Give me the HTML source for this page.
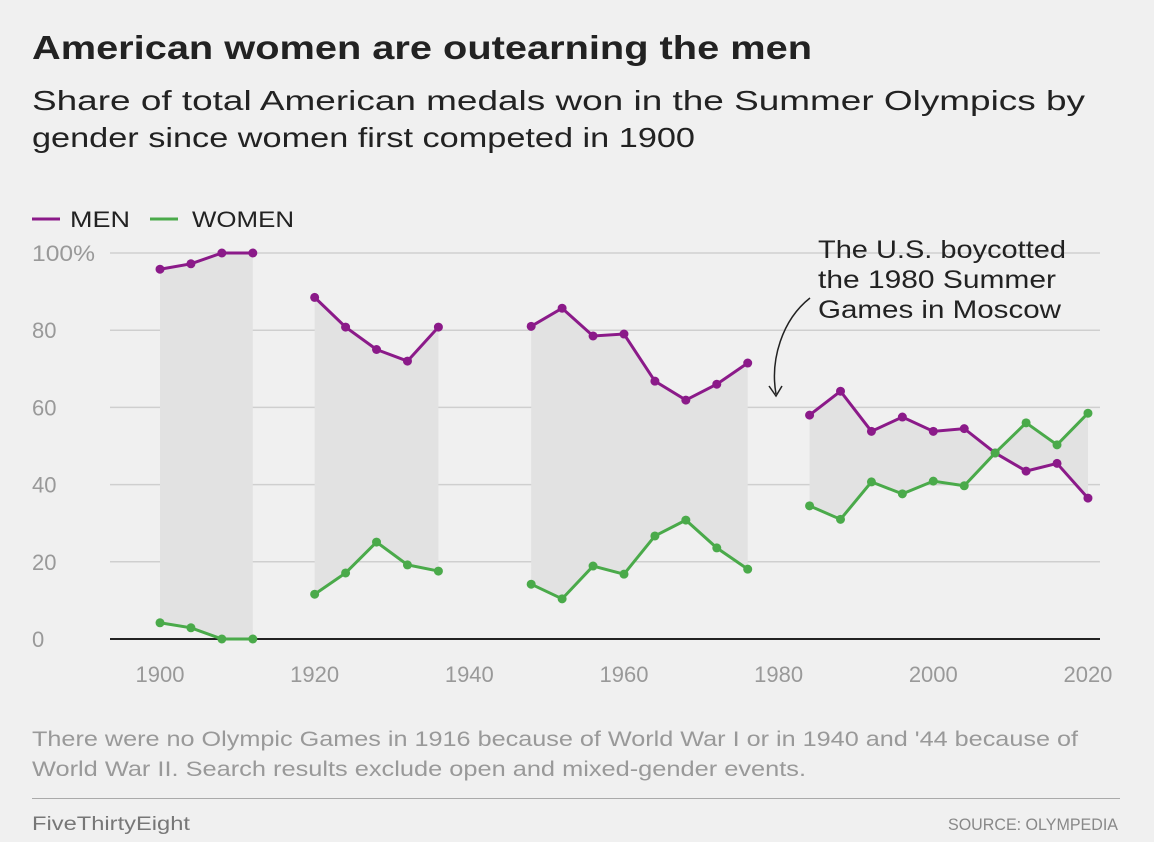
<!DOCTYPE html>
<html><head><meta charset="utf-8"><style>
body{margin:0;background:#f0f0f0;width:1154px;height:842px;overflow:hidden;font-family:"Liberation Sans",sans-serif;position:relative}
svg{position:absolute;left:0;top:0;font-family:"Liberation Sans",sans-serif}
</style></head><body>
<svg id="c" width="1154" height="842">
<text x="32" y="59" font-size="33" font-weight="bold" fill="#222" textLength="780" lengthAdjust="spacingAndGlyphs">American women are outearning the men</text>
<text x="32" y="110" font-size="28" fill="#222" textLength="1053" lengthAdjust="spacingAndGlyphs">Share of total American medals won in the Summer Olympics by</text>
<text x="32" y="147" font-size="28" fill="#222" textLength="663" lengthAdjust="spacingAndGlyphs">gender since women first competed in 1900</text>
<text x="32" y="746" font-size="21" fill="#999" textLength="1046" lengthAdjust="spacingAndGlyphs">There were no Olympic Games in 1916 because of World War I or in 1940 and '44 because of</text>
<text x="32" y="776" font-size="21" fill="#999" textLength="774" lengthAdjust="spacingAndGlyphs">World War II. Search results exclude open and mixed-gender events.</text>
<line x1="32" x2="1120" y1="798.5" y2="798.5" stroke="#aaa"/>
<text x="32" y="830" font-size="19" fill="#777" textLength="158" lengthAdjust="spacingAndGlyphs">FiveThirtyEight</text>
<text x="948" y="830" font-size="17" fill="#888" textLength="170" lengthAdjust="spacingAndGlyphs">SOURCE: OLYMPEDIA</text>
</svg>
<script>
const segments=[[1900,1904,1908,1912],[1920,1924,1928,1932,1936],[1948,1952,1956,1960,1964,1968,1972,1976],[1984,1988,1992,1996,2000,2004,2008,2012,2016,2020]];
const menValues=[[95.8,97.2,100,100],[88.5,80.8,75,72,80.8],[81,85.7,78.5,79,66.8,61.9,66,71.5],[58,64.2,53.8,57.5,53.8,54.5,48.2,43.5,45.5,36.5]];
const womenValues=[[4.2,2.9,0,0],[11.6,17.1,25.1,19.2,17.6],[14.2,10.4,18.9,16.8,26.7,30.8,23.6,18.1],[34.5,31,40.7,37.6,40.9,39.7,48.2,56,50.3,58.5]];
const yTicks=[0,20,40,60,80,100];
const yTickLabels=["0","20","40","60","80","100%"];
const xTicks=[1900,1920,1940,1960,1980,2000,2020];
const NS="http://www.w3.org/2000/svg",svg=document.getElementById('c');
const x=v=>160+(v-1900)*7.733, y=v=>639-v*3.86;
function mk(t,a,p){const e=document.createElementNS(NS,t);for(const k in a)e.setAttribute(k,a[k]);(p||svg).appendChild(e);return e;}
yTicks.forEach((t,i)=>{
 if(t>0){const g=mk('line',{x1:110,x2:1100,y1:y(t),y2:y(t),stroke:'#cfcfcf','stroke-width':1.5});
 
 }
 const a={x:32,y:y(t)+8,'font-size':22,fill:'#999'};
 if(t===100){a.textLength=63;a.lengthAdjust='spacingAndGlyphs';}
 const l=mk('text',a);l.textContent=yTickLabels[i];
 
 
});
xTicks.forEach(t=>{const l=mk('text',{x:x(t),y:682,'font-size':22,fill:'#999','text-anchor':'middle'});l.textContent=t;
 
 });
segments.forEach((yrs,s)=>{
 const m=yrs.map((yr,i)=>[x(yr),y(menValues[s][i])]),w=yrs.map((yr,i)=>[x(yr),y(womenValues[s][i])]);
 const a=mk('polygon',{points:m.concat(w.slice().reverse()).map(p=>p.join(',')).join(' '),fill:'#e2e2e2'});
 
 
});
const base=mk('line',{x1:110,x2:1100,y1:639,y2:639,stroke:'#222','stroke-width':2});


function series(vals,col,name){segments.forEach((yrs,s)=>{
 const pts=yrs.map((yr,i)=>[x(yr),y(vals[s][i])]);
 const pl=mk('polyline',{points:pts.map(p=>p.join(',')).join(' '),fill:'none',stroke:col,'stroke-width':3});
 
 
 pts.forEach((p,i)=>{const c=mk('circle',{cx:p[0],cy:p[1],r:4.5,fill:col});
 
 });
});}
series(menValues,'#8b1a89','men');
series(womenValues,'#4aaa4a','women');
[['#8b1a89','MEN',32,70,60],['#4aaa4a','WOMEN',150,192,102]].forEach(([c,t,lx,tx0,tw])=>{
 mk('line',{x1:lx,x2:lx+28,y1:219,y2:219,stroke:c,'stroke-width':3});
 const tx=mk('text',{x:tx0,y:227,'font-size':22,fill:'#222',textLength:tw,lengthAdjust:'spacingAndGlyphs'});tx.textContent=t;
 
 
});
[['The U.S. boycotted',248],['the 1980 Summer',238],['Games in Moscow',243]].forEach(([t,w],i)=>{const tx=mk('text',{x:818,y:258+i*30,'font-size':25,fill:'#222',textLength:w,lengthAdjust:'spacingAndGlyphs'});tx.textContent=t;
 
 });
mk('path',{d:'M810,298 C782,320 770,360 776,394',fill:'none',stroke:'#222','stroke-width':1.5});
mk('path',{d:'M769,386 L776,396 L782,386',fill:'none',stroke:'#222','stroke-width':1.5});
</script>
</body></html>
